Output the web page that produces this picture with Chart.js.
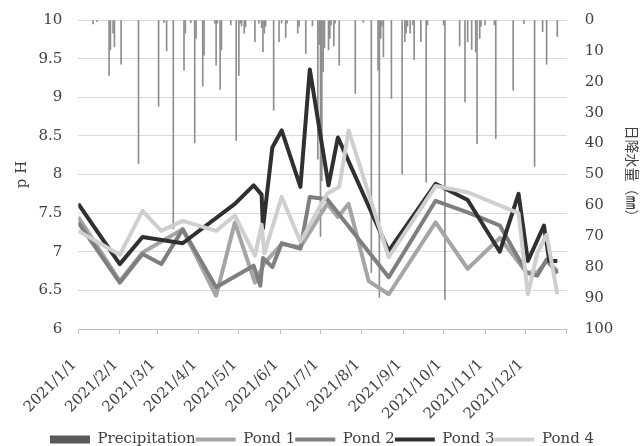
<!DOCTYPE html>
<html>
<head>
<meta charset="utf-8">
<script src="https://cdn.jsdelivr.net/npm/chart.js@4/dist/chart.umd.min.js"></script>
<style>
  html, body { margin: 0; padding: 0; background: #fff; }
  canvas { display: block; }
</style>
</head>
<body>
<canvas id="chart" width="644" height="446"></canvas>
<script>
// month tick labels on the date axis
const monthLabels = ["2021/1/1","2021/2/1","2021/3/1","2021/4/1","2021/5/1","2021/6/1",
  "2021/7/1","2021/8/1","2021/9/1","2021/10/1","2021/11/1","2021/12/1"];
const axisEnd = "2022/1/1";

// daily precipitation (mm), only rainy days
const precipDates = ["2021/1/12","2021/1/15","2021/1/24","2021/1/25","2021/1/27","2021/1/28","2021/2/2","2021/2/15",
  "2021/3/2","2021/3/6","2021/3/8","2021/3/13","2021/3/21","2021/3/22","2021/3/26","2021/3/29","2021/3/30",
  "2021/4/4","2021/4/5","2021/4/13","2021/4/14","2021/4/15","2021/4/17","2021/4/18","2021/4/25","2021/4/29",
  "2021/5/1","2021/5/2","2021/5/3","2021/5/5","2021/5/6","2021/5/13","2021/5/16","2021/5/18","2021/5/19","2021/5/20","2021/5/21","2021/5/27","2021/5/31",
  "2021/6/2","2021/6/5","2021/6/6","2021/6/14","2021/6/15","2021/6/20","2021/6/25","2021/6/29","2021/6/30",
  "2021/7/1","2021/7/2","2021/7/3","2021/7/4","2021/7/7","2021/7/8","2021/7/9","2021/7/11","2021/7/12","2021/7/15","2021/7/27",
  "2021/8/2","2021/8/8","2021/8/13","2021/8/14","2021/8/15","2021/8/16","2021/8/17","2021/8/23","2021/8/31",
  "2021/9/2","2021/9/3","2021/9/4","2021/9/6","2021/9/8","2021/9/9","2021/9/14","2021/9/18","2021/9/19",
  "2021/10/1","2021/10/2","2021/10/13","2021/10/17","2021/10/19","2021/10/22","2021/10/25","2021/10/26","2021/10/28","2021/10/29",
  "2021/11/1","2021/11/8","2021/11/9","2021/11/22","2021/11/30",
  "2021/12/8","2021/12/14","2021/12/17","2021/12/25"];
const precipValues = [1.3,0.5,17.9,9.7,4.3,8.7,14.3,46.5,
  27.9,0.9,10,67.5,16.2,4.3,0.9,39.8,6,
  21.4,11.4,1,14.6,1,22.5,9.7,1.6,39,
  17.9,1,1.9,4.3,2.2,7,1,2.5,10.3,4.3,2,29.2,7,
  1,5.6,1,4.3,2,10.8,1.9,45,8,
  70,52,16.8,9,9.7,6,1.6,8.4,1,14.6,23.8,
  0.8,81.7,16.2,89.8,6,2,11.9,25.4,49.8,
  7,4.3,2,4.3,1.6,12.8,7,52.5,1.6,
  1.6,90.4,8.4,26.5,7,9.5,10.3,40,6,2,
  1.6,1.6,38.4,22.7,1.2,
  47.4,3.8,14.3,5.4];

// pond pH samples
const pond1Dates = ["2021/1/1","2021/2/1","2021/2/18","2021/3/20","2021/4/14","2021/4/28","2021/5/13","2021/5/20","2021/6/2","2021/6/16",
  "2021/7/6","2021/7/14","2021/7/22","2021/8/6","2021/8/21","2021/9/25","2021/10/19","2021/11/12","2021/12/2","2021/12/10","2021/12/17","2021/12/25"];
const pond1Values = [7.45,6.62,6.99,7.29,6.43,7.38,6.60,6.85,7.10,7.06,7.62,7.45,7.62,6.62,6.45,7.38,6.78,7.18,6.73,6.73,6.88,6.75];

const pond2Dates = ["2021/1/1","2021/2/1","2021/2/18","2021/3/4","2021/3/20","2021/4/14","2021/5/12","2021/5/17","2021/5/19","2021/5/26","2021/6/2",
  "2021/6/16","2021/6/23","2021/7/6","2021/8/21","2021/9/25","2021/10/19","2021/11/12","2021/12/2","2021/12/10","2021/12/17","2021/12/25"];
const pond2Values = [7.38,6.60,6.97,6.84,7.29,6.54,6.82,6.56,6.92,6.80,7.11,7.04,7.71,7.68,6.67,7.66,7.51,7.34,6.73,6.69,6.90,6.72];

const pond3Dates = ["2021/1/1","2021/2/1","2021/2/18","2021/3/20","2021/4/28","2021/5/12","2021/5/18","2021/5/19","2021/5/26","2021/6/2","2021/6/16",
  "2021/6/23","2021/7/7","2021/7/14","2021/8/21","2021/9/25","2021/10/19","2021/11/12","2021/11/26","2021/12/3","2021/12/15","2021/12/19","2021/12/25"];
const pond3Values = [7.62,6.84,7.19,7.11,7.62,7.86,7.74,7.30,8.35,8.57,7.84,9.36,7.86,8.48,7.01,7.88,7.67,7.00,7.75,6.88,7.34,6.88,6.88];

const pond4Dates = ["2021/1/1","2021/2/1","2021/2/18","2021/3/4","2021/3/20","2021/4/14","2021/4/28","2021/5/13","2021/5/18","2021/5/20","2021/6/2",
  "2021/6/16","2021/7/6","2021/7/15","2021/7/22","2021/8/21","2021/9/25","2021/10/19","2021/11/26","2021/12/3","2021/12/10","2021/12/17","2021/12/25"];
const pond4Values = [7.27,6.96,7.53,7.27,7.40,7.27,7.47,6.95,7.35,6.98,7.71,7.13,7.75,7.84,8.57,6.93,7.85,7.77,7.50,6.45,6.98,7.22,6.45];

// days since 2021/1/1
function dayOf(s) {
  const [y, m, d] = s.split("/").map(Number);
  return (Date.UTC(y, m - 1, d) - Date.UTC(2021, 0, 1)) / 864e5;
}
function pts(dates, values) {
  return dates.map((d, i) => ({ x: dayOf(d), y: values[i] }));
}

const monthTicks = monthLabels.concat([axisEnd]).map(dayOf);
const FONT = "'DejaVu Serif', serif";
const TEXT = "#404040";

function pondSet(label, dates, values, color, order) {
  return {
    type: "line", label, data: pts(dates, values), yAxisID: "y",
    borderColor: color, backgroundColor: color, borderWidth: 4,
    borderJoinStyle: "round", borderCapStyle: "butt",
    pointRadius: 0, tension: 0, order, pointStyle: "line"
  };
}

new Chart(document.getElementById("chart"), {
  type: "line",
  data: {
    datasets: [
      {
        type: "bar", label: "Precipitation", data: pts(precipDates, precipValues),
        yAxisID: "y2", backgroundColor: "#8e8e8e", borderWidth: 0,
        barThickness: 1, order: 5
      },
      pondSet("Pond 1", pond1Dates, pond1Values, "#a5a5a5", 4),
      pondSet("Pond 2", pond2Dates, pond2Values, "#7f7f7f", 3),
      pondSet("Pond 3", pond3Dates, pond3Values, "#303030", 2),
      pondSet("Pond 4", pond4Dates, pond4Values, "#cfcfcf", 1)
    ]
  },
  options: {
    responsive: false,
    animation: false,
    layout: { padding: { top: 20, left: 0, right: 0, bottom: -11 } },
    plugins: {
      tooltip: { enabled: false },
      legend: {
        position: "bottom",
        labels: {
          font: { family: FONT, size: 15 },
          color: TEXT,
          usePointStyle: true,
          pointStyleWidth: 40,
          boxWidth: 40,
          boxHeight: 8,
          padding: 0,
          sort: (a, b) => a.datasetIndex - b.datasetIndex,
          generateLabels: chart => {
            const items = Chart.defaults.plugins.legend.labels.generateLabels(chart);
            items.forEach(it => {
              if (it.datasetIndex === 0) {
                it.pointStyle = "rect"; it.lineWidth = 0; it.fillStyle = "#595959";
              } else {
                it.pointStyle = "line"; it.lineWidth = 4;
              }
            });
            return items;
          }
        }
      }
    },
    scales: {
      x: {
        type: "linear",
        offset: false,
        min: 0, max: dayOf(axisEnd),
        afterBuildTicks: s => { s.ticks = monthTicks.map(v => ({ value: v })); },
        afterFit: s => { s.height = 103; },
        ticks: {
          autoSkip: false, minRotation: 45, maxRotation: 45,
          font: { family: FONT, size: 15 }, color: TEXT, padding: 22, labelOffset: -4,
          callback: (v, i) => monthLabels[i] || ""
        },
        grid: { offset: false, drawOnChartArea: false, drawTicks: true, tickLength: 5, color: "#bfbfbf" },
        border: { display: true, color: "#bfbfbf" }
      },
      y: {
        position: "left",
        min: 6, max: 10,
        afterFit: s => { s.width = 78.3; },
        ticks: {
          stepSize: 0.5, padding: 3,
          font: { family: FONT, size: 15 }, color: TEXT,
          callback: v => String(v)
        },
        grid: { color: "#d9d9d9", lineWidth: 1, drawTicks: true, tickLength: 13, tickColor: "rgba(0,0,0,0)" },
        border: { display: false },
        title: {
          display: true, text: "p H", color: TEXT,
          font: { family: FONT, size: 15 }, padding: { top: 13, bottom: 0 }
        }
      },
      y2: {
        position: "right",
        min: 0, max: 100, reverse: true,
        afterFit: s => { s.width = 77.3; },
        ticks: {
          stepSize: 10, padding: 3,
          font: { family: FONT, size: 15 }, color: TEXT
        },
        grid: { drawOnChartArea: false, drawTicks: true, tickLength: 15, tickColor: "rgba(0,0,0,0)" },
        border: { display: false },
        title: {
          display: true, text: "日降水量（㎜）", color: TEXT,
          font: { family: "'Noto Sans CJK JP', sans-serif", size: 14 }, padding: { top: 3, bottom: 0 }
        }
      }
    }
  }
});
</script>
</body>
</html>
